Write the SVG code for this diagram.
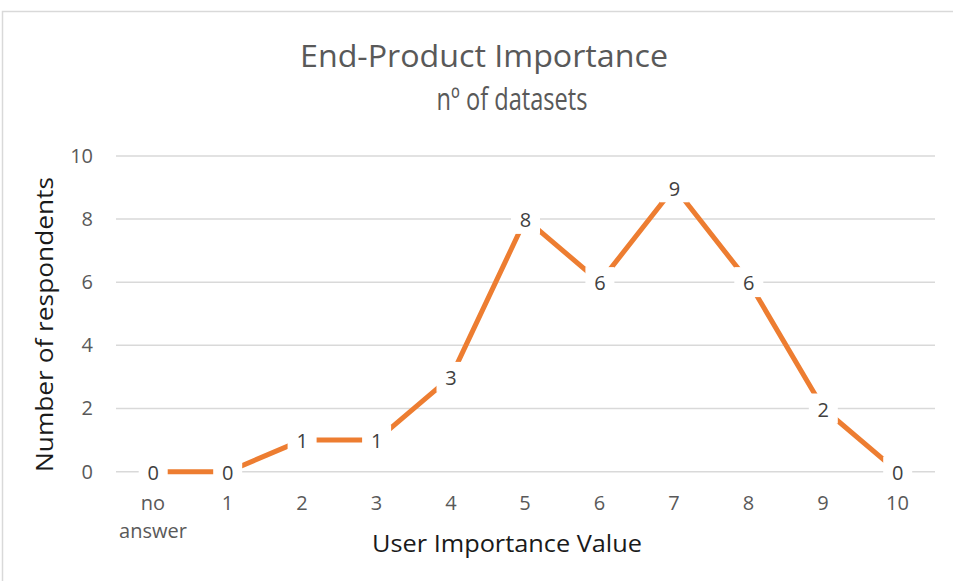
<svg xmlns="http://www.w3.org/2000/svg" width="953" height="581" viewBox="0 0 953 581">
<style>
.grid{stroke:#d9d9d9;stroke-width:1.5;fill:none}
.ax{font-family:"Open Sans","Liberation Sans",sans-serif;font-size:20px;fill:#595959}
.dl{font-family:"Open Sans","Liberation Sans",sans-serif;font-size:20px;fill:#404040;text-anchor:middle}
.lb{fill:#ffffff}
.series{stroke:#ed7d31;stroke-width:5;fill:none;stroke-linejoin:round}
.title{font-family:"Open Sans","Liberation Sans",sans-serif;font-size:31px;fill:#595959;text-anchor:middle}
.atitle{font-family:"Open Sans","Liberation Sans",sans-serif;font-size:24px;fill:#1a1a1a;text-anchor:middle}
</style>
<rect x="0" y="0" width="953" height="581" fill="#ffffff"/>
<rect x="2.5" y="11.5" width="970" height="600" fill="#ffffff" stroke="#d9d9d9" stroke-width="1.5"/>
<g id="title">
<text class="title" x="484" y="67" textLength="368" lengthAdjust="spacingAndGlyphs">End-Product Importance</text>
<text class="title" x="512" y="110" textLength="151" lengthAdjust="spacingAndGlyphs">nº of datasets</text>
</g>
<g id="gridlines">
<line class="grid" x1="116" y1="156" x2="935" y2="156"/>
<line class="grid" x1="116" y1="219" x2="935" y2="219"/>
<line class="grid" x1="116" y1="282.3" x2="935" y2="282.3"/>
<line class="grid" x1="116" y1="345.3" x2="935" y2="345.3"/>
<line class="grid" x1="116" y1="408.5" x2="935" y2="408.5"/>
<line class="grid" x1="116" y1="471.7" x2="935" y2="471.7"/>
</g>
<g id="y-axis" class="ax" text-anchor="end">
<text x="93" y="163">10</text>
<text x="93" y="226">8</text>
<text x="93" y="289">6</text>
<text x="93" y="352">4</text>
<text x="93" y="415">2</text>
<text x="93" y="478.5">0</text>
</g>
<g id="x-axis" class="ax" text-anchor="middle">
<text x="153" y="510">no</text>
<text x="153" y="538">answer</text>
<text x="227.5" y="510">1</text>
<text x="302" y="510">2</text>
<text x="376.5" y="510">3</text>
<text x="451" y="510">4</text>
<text x="525" y="510">5</text>
<text x="599.5" y="510">6</text>
<text x="674" y="510">7</text>
<text x="748.5" y="510">8</text>
<text x="823" y="510">9</text>
<text x="897.5" y="510">10</text>
</g>
<g id="axis-titles">
<text class="atitle" x="507" y="552" textLength="270" lengthAdjust="spacingAndGlyphs">User Importance Value</text>
<text class="atitle" transform="translate(53,324.5) rotate(-90)" x="0" y="0" textLength="295" lengthAdjust="spacingAndGlyphs">Number of respondents</text>
</g>
<g id="connectors">
<polyline class="series" points="153.2,471.7 227.7,471.7 302.1,440.1 376.6,440.1 451,376.9 525.5,218.9 599.9,282.1 674.4,187.3 748.8,282.1 823.3,408.5 897.7,471.7"/>
</g>
<g id="data-labels">
<g id="p0"><rect class="lb" x="138.7" y="456.7" width="29" height="30"/><text class="dl" x="153.2" y="480">0</text></g>
<g id="p1"><rect class="lb" x="213.2" y="456.7" width="29" height="30"/><text class="dl" x="227.7" y="480">0</text></g>
<g id="p2"><rect class="lb" x="287.6" y="425.1" width="29" height="30"/><text class="dl" x="302.1" y="448.4">1</text></g>
<g id="p3"><rect class="lb" x="362.1" y="425.1" width="29" height="30"/><text class="dl" x="376.6" y="448.4">1</text></g>
<g id="p4"><rect class="lb" x="436.5" y="361.9" width="29" height="30"/><text class="dl" x="451" y="385.2">3</text></g>
<g id="p5"><rect class="lb" x="511" y="203.9" width="29" height="30"/><text class="dl" x="525.5" y="227.2">8</text></g>
<g id="p6"><rect class="lb" x="585.4" y="267.1" width="29" height="30"/><text class="dl" x="599.9" y="290.4">6</text></g>
<g id="p7"><rect class="lb" x="659.9" y="172.3" width="29" height="30"/><text class="dl" x="674.4" y="195.6">9</text></g>
<g id="p8"><rect class="lb" x="734.3" y="267.1" width="29" height="30"/><text class="dl" x="748.8" y="290.4">6</text></g>
<g id="p9"><rect class="lb" x="808.8" y="393.5" width="29" height="30"/><text class="dl" x="823.3" y="416.8">2</text></g>
<g id="p10"><rect class="lb" x="883.2" y="456.7" width="29" height="30"/><text class="dl" x="897.7" y="480">0</text></g>
</g>
</svg>
